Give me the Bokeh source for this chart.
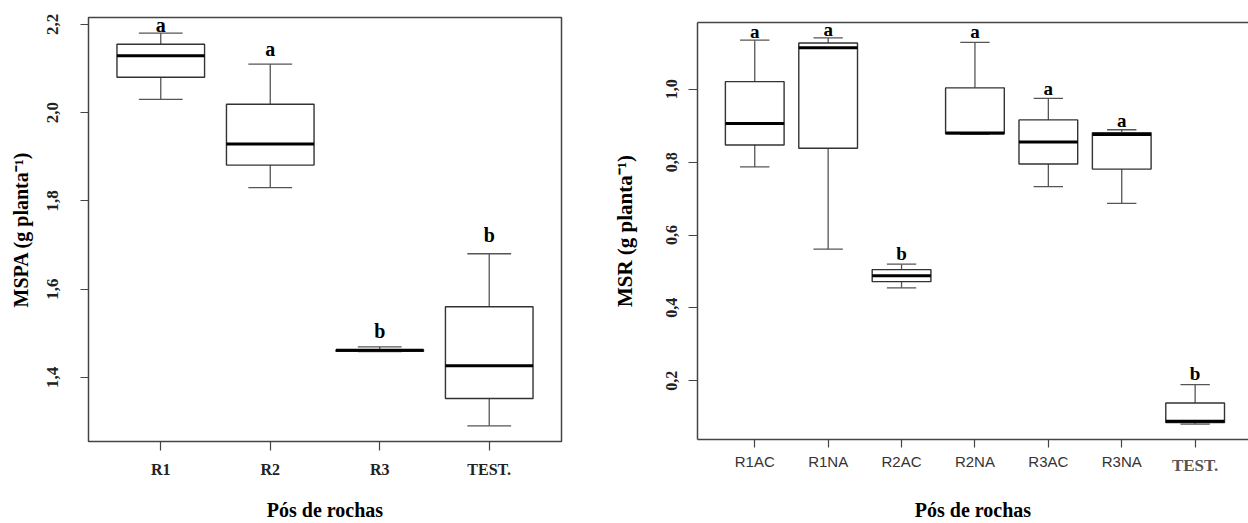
from bokeh.plotting import figure
from bokeh.layouts import row, column
from bokeh.models import (FixedTicker, CustomJSTickFormatter, LinearAxis,
                          ColumnDataSource, Range1d)
from bokeh.embed import file_html
from bokeh.resources import INLINE
from bokeh.core.properties import value

# ---------------- data: left panel (MSPA) ----------------
left_groups = ["R1", "R2", "R3", "TEST."]
left_low = [2.03, 1.83, 1.458, 1.29]
left_q1 = [2.08, 1.881, 1.459, 1.352]
left_med = [2.129, 1.929, 1.461, 1.426]
left_q3 = [2.155, 2.019, 1.462, 1.56]
left_high = [2.18, 2.11, 1.469, 1.68]
left_letters = ["a", "a", "b", "b"]
left_letter_y = [2.186, 2.130, 1.491, 1.710]
left_yticks = [1.4, 1.6, 1.8, 2.0, 2.2]

# ---------------- data: right panel (MSR) ----------------
right_groups = ["R1AC", "R1NA", "R2AC", "R2NA", "R3AC", "R3NA", "TEST."]
right_low = [0.787, 0.561, 0.455, 0.876, 0.733, 0.687, 0.081]
right_q1 = [0.847, 0.838, 0.472, 0.878, 0.795, 0.781, 0.085]
right_med = [0.906, 1.114, 0.488, 0.880, 0.855, 0.876, 0.089]
right_q3 = [1.021, 1.127, 0.505, 1.004, 0.916, 0.881, 0.139]
right_high = [1.135, 1.141, 0.520, 1.129, 0.975, 0.889, 0.189]
right_letters = ["a", "a", "b", "a", "a", "a", "b"]
right_letter_y = [1.1425, 1.148, 0.533, 1.141, 0.987, 0.897, 0.202]
right_yticks = [0.2, 0.4, 0.6, 0.8, 1.0]

SERIF = "Liberation Serif"
SANS = "Liberation Sans"
BOXW = 0.8
CAPW = 0.4


def draw_boxes(p, groups, low, q1, med, q3, high, letters, letter_y, letter_size):
    xs = list(range(1, len(groups) + 1))
    src = ColumnDataSource(dict(
        x=xs,
        left=[x - BOXW / 2 for x in xs], right=[x + BOXW / 2 for x in xs],
        cl=[x - CAPW / 2 for x in xs], cr=[x + CAPW / 2 for x in xs],
        low=low, q1=q1, med=med, q3=q3, high=high,
        lab=letters, ly=letter_y,
    ))
    # whiskers
    p.segment(x0="x", y0="q3", x1="x", y1="high", source=src, line_color="#555555", line_width=1.3)
    p.segment(x0="x", y0="low", x1="x", y1="q1", source=src, line_color="#555555", line_width=1.3)
    p.segment(x0="cl", y0="high", x1="cr", y1="high", source=src, line_color="#555555", line_width=1.3)
    p.segment(x0="cl", y0="low", x1="cr", y1="low", source=src, line_color="#555555", line_width=1.3)
    # boxes
    p.quad(left="left", right="right", bottom="q1", top="q3", source=src,
           fill_color="white", line_color="#333333", line_width=1.4)
    # medians
    p.segment(x0="left", y0="med", x1="right", y1="med", source=src, line_color="black", line_width=3)
    # significance letters
    p.text(x="x", y="ly", text="lab", source=src, text_font=value(SERIF), text_font_style="bold",
           text_font_size=letter_size, text_align="center", text_baseline="alphabetic",
           y_offset=-6, text_color="black")


def pad_range(low, high):
    lo, hi = min(low), max(high)
    d = 0.04 * (hi - lo)
    return lo - d, hi + d


fmt = CustomJSTickFormatter(code="return tick.toFixed(1).replace('.', ',')")

# ---------------- left figure ----------------
ylo, yhi = pad_range(left_low, left_high)
p1 = figure(width=600, height=523, x_range=Range1d(0.34, 4.66), y_range=Range1d(ylo, yhi),
            min_border_left=88, min_border_right=39, min_border_top=17, min_border_bottom=81,
            output_backend="svg", toolbar_location=None)
p1.grid.visible = False
p1.outline_line_color = "#444444"
p1.outline_line_width = 1.5
draw_boxes(p1, left_groups, left_low, left_q1, left_med, left_q3, left_high,
           left_letters, left_letter_y, "20px")

bx1 = p1.below[0]
ly1 = p1.left[0]
bx1.ticker = FixedTicker(ticks=list(range(1, len(left_groups) + 1)))
bx1.major_label_overrides = {i + 1: g for i, g in enumerate(left_groups)}
ly1.ticker = FixedTicker(ticks=left_yticks)
ly1.formatter = fmt
ly1.major_label_orientation = "vertical"
for ax in (bx1, ly1):
    ax.axis_line_color = None
    ax.minor_tick_line_color = None
    ax.major_tick_in = 0
    ax.major_tick_line_color = "#444444"
    ax.major_tick_line_width = 1.2
    ax.major_label_text_font = SERIF
    ax.major_label_text_font_style = "bold"
    ax.major_label_text_color = "#222222"
    ax.axis_label_text_font = SERIF
    ax.axis_label_text_font_style = "bold"
    ax.axis_label_text_color = "black"
bx1.major_tick_out = 9
ly1.major_tick_out = 8
bx1.major_label_text_font_size = "16px"
ly1.major_label_text_font_size = "17px"
bx1.major_label_standoff = 10
ly1.major_label_standoff = 22
bx1.axis_label = "Pós de rochas"
bx1.axis_label_text_font_size = "20px"
bx1.axis_label_standoff = 18
ly1.axis_label = "MSPA (g planta\u207b\u00b9)"
ly1.axis_label_text_font_size = "20px"
ly1.axis_label_standoff = 13

# ---------------- right figure ----------------
ylo2, yhi2 = pad_range(right_low, right_high)
p2 = figure(width=648, height=523, x_range=Range1d(0.22, 7.727), y_range=Range1d(ylo2, yhi2),
            min_border_left=97, min_border_right=0, min_border_top=22, min_border_bottom=84,
            output_backend="svg", toolbar_location=None)
p2.grid.visible = False
p2.outline_line_color = None
draw_boxes(p2, right_groups, right_low, right_q1, right_med, right_q3, right_high,
           right_letters, right_letter_y, "19px")

bx = p2.below[0]
ly = p2.left[0]
bx.ticker = FixedTicker(ticks=list(range(1, len(right_groups) + 1)))
bx.major_label_overrides = {i + 1: (g if g != "TEST." else "") for i, g in enumerate(right_groups)}
ly.ticker = FixedTicker(ticks=right_yticks)
ly.formatter = fmt
ly.major_label_orientation = "vertical"
for ax in (bx, ly):
    ax.axis_line_color = "#444444"
    ax.axis_line_width = 1.5
    ax.minor_tick_line_color = None
    ax.major_tick_in = 0
    ax.major_tick_line_color = "#444444"
    ax.major_tick_line_width = 1.2
    ax.axis_label_text_font = SERIF
    ax.axis_label_text_font_style = "bold"
    ax.axis_label_text_color = "black"
bx.major_tick_out = 8
bx.major_label_text_font = SANS
bx.major_label_text_font_size = "15px"
bx.major_label_text_color = "#333333"
bx.major_label_standoff = 5
ly.major_tick_out = 9
ly.major_label_text_font = SERIF
ly.major_label_text_font_style = "bold"
ly.major_label_text_font_size = "16px"
ly.major_label_text_color = "#222222"
ly.major_label_standoff = 11
ly.axis_label = "MSR (g planta\u207b\u00b9)"
ly.axis_label_text_font_size = "21px"
ly.axis_label_standoff = 27

# second bottom axis: the "TEST." label in a bold serif face, pulled up to the
# row of the other tick labels, and the x-axis title
test_axis = LinearAxis(ticker=FixedTicker(ticks=[len(right_groups)]),
                       major_label_overrides={len(right_groups): right_groups[-1]},
                       axis_line_color=None, major_tick_line_color=None,
                       minor_tick_line_color=None, major_tick_out=0, major_tick_in=0,
                       major_label_standoff=-17,
                       major_label_text_font=SERIF, major_label_text_font_style="bold",
                       major_label_text_font_size="17px", major_label_text_color="#555555",
                       axis_label="Pós de rochas", axis_label_text_font=SERIF,
                       axis_label_text_font_style="bold", axis_label_text_font_size="20px",
                       axis_label_text_color="black", axis_label_standoff=21)
p2.add_layout(test_axis, "below")

# top frame line (the right edge of this frame is cut off in the reference)
top_axis = LinearAxis(ticker=FixedTicker(ticks=[]), major_tick_line_color=None,
                      minor_tick_line_color=None, axis_line_color="#444444",
                      axis_line_width=1.5, major_label_text_font_size="0px")
p2.add_layout(top_axis, "above")

layout = row(column(p1), column(p2), spacing=0)
open("out.html", "w").write(file_html(layout, INLINE))
